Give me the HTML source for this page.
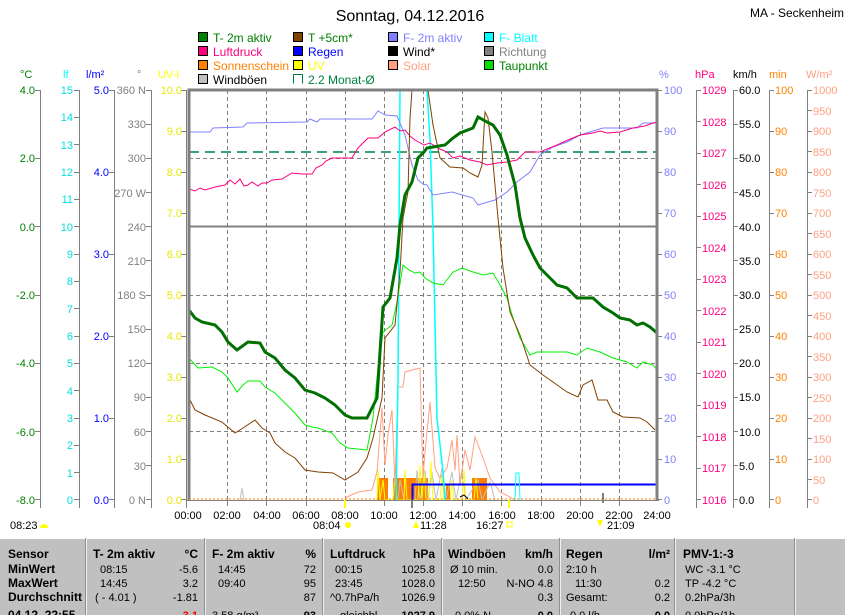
<!DOCTYPE html>
<html><head><meta charset="utf-8"><style>
html,body{margin:0;padding:0;background:#fff;}
svg{display:block;font-family:"Liberation Sans",sans-serif;}
</style></head><body>
<svg width="845" height="615" viewBox="0 0 845 615" xmlns="http://www.w3.org/2000/svg" font-size="11">
<rect width="845" height="615" fill="#fff"/>
<text x="410" y="21" font-size="16" text-anchor="middle">Sonntag, 04.12.2016</text>
<text x="750" y="17" font-size="12">MA - Seckenheim</text>
<g font-size="12">
<rect x="198.5" y="32.5" width="9" height="9" fill="#008000" stroke="#000"/><text x="213" y="42" fill="#008000">T- 2m aktiv</text>
<rect x="293.5" y="32.5" width="9" height="9" fill="#804000" stroke="#000"/><text x="308" y="42" fill="#008000">T +5cm*</text>
<rect x="388.5" y="32.5" width="9" height="9" fill="#8080ff" stroke="#000"/><text x="403" y="42" fill="#8080ff">F- 2m aktiv</text>
<rect x="484.5" y="32.5" width="9" height="9" fill="#00ffff" stroke="#000"/><text x="499" y="42" fill="#00ffff">F- Blatt</text>
<rect x="198.5" y="46.5" width="9" height="9" fill="#ff0080" stroke="#000"/><text x="213" y="56" fill="#ff0080">Luftdruck</text>
<rect x="293.5" y="46.5" width="9" height="9" fill="#0000ff" stroke="#000"/><text x="308" y="56" fill="#0000ff">Regen</text>
<rect x="388.5" y="46.5" width="9" height="9" fill="#000" stroke="#000"/><text x="403" y="56" fill="#000">Wind*</text>
<rect x="484.5" y="46.5" width="9" height="9" fill="#808080" stroke="#000"/><text x="499" y="56" fill="#808080">Richtung</text>
<rect x="198.5" y="60.5" width="9" height="9" fill="#ff8000" stroke="#000"/><text x="213" y="70" fill="#ff8000">Sonnenschein</text>
<rect x="293.5" y="60.5" width="9" height="9" fill="#ffff00" stroke="#000"/><text x="308" y="70" fill="#ffff00">UV</text>
<rect x="388.5" y="60.5" width="9" height="9" fill="#ffa080" stroke="#000"/><text x="403" y="70" fill="#ffa080">Solar</text>
<rect x="484.5" y="60.5" width="9" height="9" fill="#00e000" stroke="#000"/><text x="499" y="70" fill="#008000">Taupunkt</text>
<rect x="198.5" y="74.5" width="9" height="9" fill="#c0c0c0" stroke="#000"/><text x="213" y="84" fill="#000">Windböen</text>
<path d="M293.5 83.5V74.5H302.5V83.5" fill="none" stroke="#008040"/><text x="308" y="84" fill="#008040">2.2 Monat-Ø</text>
</g>
<g font-size="11">
<text x="20" y="78" fill="#008000">°C</text>
<text x="63" y="78" fill="#00ffff">lf</text>
<text x="86" y="78" fill="#0000ff">l/m²</text>
<text x="137" y="78" fill="#808080">°</text>
<text x="158" y="78" fill="#ffff00">UV-I</text>
<text x="659" y="78" fill="#8080ff">%</text>
<text x="695" y="78" fill="#ff0080">hPa</text>
<text x="733" y="78" fill="#000">km/h</text>
<text x="769" y="78" fill="#ff8000">min</text>
<text x="806" y="78" fill="#ffa080">W/m²</text>
</g>
<g stroke="#808080" stroke-width="1">
<line x1="40.5" y1="90" x2="40.5" y2="508"/>
<line x1="79.5" y1="90" x2="79.5" y2="508"/>
<line x1="114.5" y1="90" x2="114.5" y2="508"/>
<line x1="151.5" y1="90" x2="151.5" y2="508"/>
<line x1="186.5" y1="90" x2="186.5" y2="508"/>
<line x1="696.5" y1="90" x2="696.5" y2="508"/>
<line x1="733.5" y1="90" x2="733.5" y2="508"/>
<line x1="769.5" y1="90" x2="769.5" y2="508"/>
<line x1="807.5" y1="90" x2="807.5" y2="508"/>
</g>
<g fill="#008000" text-anchor="end">
<text x="35" y="94">4.0</text><text x="35" y="162">2.0</text><text x="35" y="231">0.0</text><text x="35" y="299">-2.0</text><text x="35" y="367">-4.0</text><text x="35" y="436">-6.0</text><text x="35" y="504">-8.0</text>
</g>
<g stroke="#808080"><path d="M35 90.5h5M35 158.5h5M35 226.5h5M35 295.5h5M35 363.5h5M35 431.5h5M35 499.5h5"/>
<path d="M74 90.5h5M74 117.5h5M74 144.5h5M74 172.5h5M74 199.5h5M74 226.5h5M74 254.5h5M74 281.5h5M74 308.5h5M74 336.5h5M74 363.5h5M74 390.5h5M74 418.5h5M74 445.5h5M74 472.5h5M74 499.5h5"/>
<path d="M109 90.5h5M109 172.5h5M109 254.5h5M109 336.5h5M109 418.5h5M109 499.5h5"/>
<path d="M146 90.5h5M146 124.5h5M146 158.5h5M146 192.5h5M146 226.5h5M146 260.5h5M146 295.5h5M146 329.5h5M146 363.5h5M146 397.5h5M146 431.5h5M146 465.5h5M146 499.5h5"/>
<path d="M181 90.5h5M181 131.5h5M181 172.5h5M181 213.5h5M181 254.5h5M181 295.5h5M181 336.5h5M181 377.5h5M181 418.5h5M181 459.5h5M181 499.5h5"/>
</g>
<g fill="#00e0e0" text-anchor="end">
<text x="73" y="94">15</text><text x="73" y="121">14</text><text x="73" y="149">13</text><text x="73" y="176">12</text><text x="73" y="203">11</text><text x="73" y="231">10</text><text x="73" y="258">9</text><text x="73" y="285">8</text><text x="73" y="313">7</text><text x="73" y="340">6</text><text x="73" y="367">5</text><text x="73" y="395">4</text><text x="73" y="422">3</text><text x="73" y="449">2</text><text x="73" y="477">1</text><text x="73" y="504">0</text>
</g>
<g fill="#0000ff" text-anchor="end">
<text x="109" y="94">5.0</text><text x="109" y="176">4.0</text><text x="109" y="258">3.0</text><text x="109" y="340">2.0</text><text x="109" y="422">1.0</text><text x="109" y="504">0.0</text>
</g>
<g fill="#808080" text-anchor="end">
<text x="146" y="94">360 N</text><text x="146" y="128">330</text><text x="146" y="162">300</text><text x="146" y="197">270 W</text><text x="146" y="231">240</text><text x="146" y="265">210</text><text x="146" y="299">180 S</text><text x="146" y="333">150</text><text x="146" y="367">120</text><text x="146" y="401">90</text><text x="146" y="436">60</text><text x="146" y="470">30</text><text x="146" y="504">0 N</text>
</g>
<g fill="#e8e800" text-anchor="end">
<text x="182" y="94">10.0</text><text x="182" y="135">9.0</text><text x="182" y="176">8.0</text><text x="182" y="217">7.0</text><text x="182" y="258">6.0</text><text x="182" y="299">5.0</text><text x="182" y="340">4.0</text><text x="182" y="381">3.0</text><text x="182" y="422">2.0</text><text x="182" y="463">1.0</text><text x="182" y="504">0.0</text>
</g>
<g stroke="#808080">
<path d="M657 90.5h5M657 131.5h5M657 172.5h5M657 213.5h5M657 254.5h5M657 295.5h5M657 336.5h5M657 377.5h5M657 418.5h5M657 459.5h5M657 499.5h5"/>
<path d="M696 90.5h5M696 121.5h5M696 153.5h5M696 184.5h5M696 216.5h5M696 247.5h5M696 279.5h5M696 310.5h5M696 342.5h5M696 373.5h5M696 405.5h5M696 436.5h5M696 468.5h5M696 499.5h5"/>
<path d="M733 90.5h5M733 124.5h5M733 158.5h5M733 192.5h5M733 226.5h5M733 260.5h5M733 295.5h5M733 329.5h5M733 363.5h5M733 397.5h5M733 431.5h5M733 465.5h5M733 499.5h5"/>
<path d="M769 90.5h5M769 131.5h5M769 172.5h5M769 213.5h5M769 254.5h5M769 295.5h5M769 336.5h5M769 377.5h5M769 418.5h5M769 459.5h5M769 499.5h5"/>
<path d="M807 90.5h5M807 110.5h5M807 131.5h5M807 151.5h5M807 172.5h5M807 192.5h5M807 213.5h5M807 233.5h5M807 254.5h5M807 274.5h5M807 295.5h5M807 315.5h5M807 336.5h5M807 356.5h5M807 377.5h5M807 397.5h5M807 418.5h5M807 438.5h5M807 459.5h5M807 479.5h5M807 499.5h5"/>
</g>
<g fill="#8080ff">
<text x="664" y="94">100</text><text x="664" y="135">90</text><text x="664" y="176">80</text><text x="664" y="217">70</text><text x="664" y="258">60</text><text x="664" y="299">50</text><text x="664" y="340">40</text><text x="664" y="381">30</text><text x="664" y="422">20</text><text x="664" y="463">10</text><text x="664" y="504">0</text>
</g>
<g fill="#ff0080">
<text x="702" y="94">1029</text><text x="702" y="126">1028</text><text x="702" y="157">1027</text><text x="702" y="189">1026</text><text x="702" y="220">1025</text><text x="702" y="252">1024</text><text x="702" y="283">1023</text><text x="702" y="315">1022</text><text x="702" y="346">1021</text><text x="702" y="378">1020</text><text x="702" y="409">1019</text><text x="702" y="441">1018</text><text x="702" y="472">1017</text><text x="702" y="504">1016</text>
</g>
<g fill="#000">
<text x="739" y="94">60.0</text><text x="739" y="128">55.0</text><text x="739" y="162">50.0</text><text x="739" y="197">45.0</text><text x="739" y="231">40.0</text><text x="739" y="265">35.0</text><text x="739" y="299">30.0</text><text x="739" y="333">25.0</text><text x="739" y="367">20.0</text><text x="739" y="401">15.0</text><text x="739" y="436">10.0</text><text x="739" y="470">5.0</text><text x="739" y="504">0.0</text>
</g>
<g fill="#ff8000">
<text x="775" y="94">100</text><text x="775" y="135">90</text><text x="775" y="176">80</text><text x="775" y="217">70</text><text x="775" y="258">60</text><text x="775" y="299">50</text><text x="775" y="340">40</text><text x="775" y="381">30</text><text x="775" y="422">20</text><text x="775" y="463">10</text><text x="775" y="504">0</text>
</g>
<g fill="#ffa080">
<text x="813" y="94">1000</text><text x="813" y="115">950</text><text x="813" y="135">900</text><text x="813" y="156">850</text><text x="813" y="176">800</text><text x="813" y="197">750</text><text x="813" y="217">700</text><text x="813" y="238">650</text><text x="813" y="258">600</text><text x="813" y="279">550</text><text x="813" y="299">500</text><text x="813" y="320">450</text><text x="813" y="340">400</text><text x="813" y="361">350</text><text x="813" y="381">300</text><text x="813" y="402">250</text><text x="813" y="422">200</text><text x="813" y="443">150</text><text x="813" y="463">100</text><text x="813" y="484">50</text><text x="813" y="504">0</text>
</g>
<g stroke="#808080" stroke-dasharray="4,3">
<path d="M227.5 90V500M266.5 90V500M306.5 90V500M345.5 90V500M384.5 90V500M423.5 90V500M462.5 90V500M501.5 90V500M541.5 90V500M580.5 90V500M619.5 90V500"/>
<path d="M189 158.5H657M189 295.5H657M189 363.5H657M189 431.5H657"/>
</g>
<line x1="189" y1="226.5" x2="657" y2="226.5" stroke="#808080" stroke-width="2"/>
<line x1="189" y1="152" x2="657" y2="152" stroke="#008040" stroke-width="1.5" stroke-dasharray="10,6"/>
<g fill="#ff8000"><rect x="377" y="478" width="11" height="22"/><rect x="393" y="478" width="35" height="22"/><rect x="446" y="485" width="4" height="15"/><rect x="472" y="478" width="15" height="22"/></g>
<polyline fill="none" stroke="#c0c0c0" points="398,500 400,480 404,500 415,500 417,470 420,500 425,470 428,500 432,472 436,500 442,468 446,500 452,472 456,500 462,470 466,500 478,480 482,500 490,482 495,500" />
<polyline fill="none" stroke="#c0c0c0" points="240,500 242,488 244,500" />
<polyline fill="none" stroke="#ffff00" points="377,500 378,470 380,500 383,480 385,500 393,500 395,475 397,500 404,500 405,470 407,500 418,500 420,465 422,500 424,470 426,500 429,500 431,462 433,500 440,500 442,475 444,500 450,500 452,480 454,500 462,500 464,470 466,500 474,500 476,478 478,500" />
<polyline fill="none" stroke="#ffa080" points="345,498 358,492 372,490 377,472 382,408 385,465 388,435 392,410 395,485 398,387 403,387 405,372 412,370 420,368 423,478 425,452 430,402 435,468 440,478 447,468 452,440 455,470 457,435 460,485 465,450 470,470 475,437 482,455 490,478 500,492 510,497 515,500" />
<path d="M412.5 500V484.5H657" fill="none" stroke="#0000ff" stroke-width="2"/>
<polyline fill="none" stroke="#00ffff" stroke-width="1.5" points="396,500 398,380 399,228 400,90 427,90 430,140 433,228 437,418 443,472 445,500" />
<polyline fill="none" stroke="#00ffff" points="515,500 516,473 519,473 520,500" />
<polyline fill="none" stroke="#000" points="460,497 464,495 468,499" />
<polyline fill="none" stroke="#8080ff" points="189,132 210,132 213,128 243,127 247,123 307,122 310,119 317,122 320,119 372,119 378,111 385,115 397,116 405,135 412,165 418,180 423,184 427,185 433,195 452,192 473,198 478,205 488,202 495,200 507,192 517,182 530,172 540,155 553,147 567,142 580,135 603,128 637,128 643,123 657,123"/>
<polyline fill="none" stroke="#ff0080" points="189,189 195,191 200,188 205,190 215,187 225,185 230,180 235,184 240,179 244,186 248,185 252,182 258,186 262,183 267,183 272,180 282,179 292,173 302,174 312,174 316,168 322,165 326,161 332,158 345,158 352,158 358,148 363,143 368,138 378,138 385,132 395,127 400,131 405,130 410,136 415,140 424,145 430,143 440,149 447,152 453,158 460,156 470,160 480,162 487,165 497,163 507,162 517,160 525,152 540,152 557,145 568,140 580,135 593,133 600,131 607,133 620,132 633,128 645,126 653,123 657,122"/>
<polyline fill="none" stroke="#00f000" points="189,358 198,368 212,367 222,372 228,378 237,392 243,385 248,381 260,381 265,387 275,393 285,403 295,413 305,425 312,427 318,428 332,433 340,443 348,448 367,450 373,418 378,368 383,332 392,325 397,302 403,265 409,270 415,273 420,272 425,278 433,283 443,285 453,272 462,268 473,272 483,275 493,273 500,285 507,298 513,318 520,338 530,355 537,352 547,352 557,352 567,352 577,355 587,348 600,352 613,358 627,362 637,368 643,362 653,365 657,370"/>
<polyline fill="none" stroke="#804000" points="189,398 195,410 205,415 222,422 235,433 243,428 255,420 262,428 270,433 275,443 285,452 295,458 305,470 318,472 333,473 345,480 358,472 367,458 373,438 382,398 385,338 395,325 400,272 403,218 408,192 410,118 412,90 428,90 433,125 440,158 450,167 463,168 470,173 478,177 482,165 485,112 488,118 492,152 498,218 503,268 510,312 520,335 530,365 543,375 553,382 567,392 578,397 583,385 592,380 598,400 607,400 613,412 623,417 640,418 647,422 655,430"/>
<polyline fill="none" stroke="#007000" stroke-width="3" points="189,310 195,318 202,322 215,325 222,332 228,342 237,350 248,342 260,343 265,352 275,358 285,370 295,378 305,390 315,393 325,398 335,405 345,415 352,418 367,418 372,408 377,398 380,352 383,307 390,298 397,258 400,225 405,195 412,182 418,158 424,152 427,148 445,145 453,138 460,133 473,128 478,117 487,122 493,125 500,135 507,155 515,185 520,218 525,238 533,255 540,268 550,278 557,285 567,288 577,298 593,298 603,307 613,313 620,318 630,320 637,325 643,323 650,327 657,333"/>
<path d="M189 501V90H657V501" fill="none" stroke="#808080" stroke-width="3"/>
<line x1="187" y1="500.5" x2="659" y2="500.5" stroke="#808080" stroke-width="1"/>
<line x1="189" y1="499" x2="657" y2="499" stroke="#ff8000" stroke-width="1" stroke-dasharray="2,2"/>
<g stroke="#808080"><path d="M227.5 500v6M266.5 500v6M306.5 500v6M345.5 500v6M384.5 500v6M423.5 500v6M462.5 500v6M501.5 500v6M541.5 500v6M580.5 500v6M619.5 500v6"/></g>
<g stroke="#ffff00" stroke-width="2"><path d="M345 500v8M509 500v8"/></g>
<g stroke="#808080" stroke-width="2"><path d="M412 500v8M603 493v10"/></g>
<g text-anchor="middle" font-size="11">
<text x="188" y="519">00:00</text><text x="227" y="519">02:00</text><text x="267" y="519">04:00</text><text x="306" y="519">06:00</text><text x="345" y="519">08:00</text><text x="384" y="519">10:00</text><text x="423" y="519">12:00</text><text x="462" y="519">14:00</text><text x="502" y="519">16:00</text><text x="541" y="519">18:00</text><text x="580" y="519">20:00</text><text x="619" y="519">22:00</text><text x="657" y="519">24:00</text>
</g>
<g font-size="11">
<text x="10" y="529">08:23</text><path d="M40 528a4 4 0 0 1 8 0z" fill="#ffff00"/>
<text x="313" y="529">08:04</text><circle cx="348" cy="525" r="3" fill="#ffff00"/>
<text x="420" y="529">11:28</text><path d="M413 528l3-7 3 7z" fill="#ffff00"/>
<text x="476" y="529">16:27</text><rect x="507" y="522" width="5" height="5" fill="none" stroke="#ffff00"/>
<text x="607" y="529">21:09</text><path d="M597 520l3 7 3-7z" fill="#ffff00"/>
</g>
<rect x="0" y="538" width="845" height="77" fill="#c0c0c0"/>
<line x1="0" y1="538.5" x2="845" y2="538.5" stroke="#fff"/>
<g stroke="#f0f0f0"><path d="M86.5 538V615M205.5 538V615M323.5 538V615M442.5 538V615M560.5 538V615M675.5 538V615M795.5 538V615"/></g>
<g stroke="#909090"><path d="M85.5 538V615M204.5 538V615M322.5 538V615M441.5 538V615M559.5 538V615M674.5 538V615M794.5 538V615"/></g>
<g font-size="12" font-weight="bold">
<text x="8" y="558">Sensor</text><text x="8" y="573">MinWert</text><text x="8" y="587">MaxWert</text><text x="8" y="601">Durchschnitt</text><text x="8" y="619">04.12. 22:55</text>
<text x="93" y="558">T- 2m aktiv</text><text x="198" y="558" text-anchor="end">°C</text>
<text x="212" y="558">F- 2m aktiv</text><text x="316" y="558" text-anchor="end">%</text>
<text x="330" y="558">Luftdruck</text><text x="435" y="558" text-anchor="end">hPa</text>
<text x="448" y="558">Windböen</text><text x="553" y="558" text-anchor="end">km/h</text>
<text x="566" y="558">Regen</text><text x="670" y="558" text-anchor="end">l/m²</text>
<text x="683" y="558">PMV-1:-3</text>
</g>
<g font-size="11">
<text x="100" y="573">08:15</text><text x="198" y="573" text-anchor="end">-5.6</text>
<text x="218" y="573">14:45</text><text x="316" y="573" text-anchor="end">72</text>
<text x="335" y="573">00:15</text><text x="435" y="573" text-anchor="end">1025.8</text>
<text x="450" y="573">Ø 10 min.</text><text x="553" y="573" text-anchor="end">0.0</text>
<text x="566" y="573">2:10 h</text><text x="685" y="573">WC -3.1 °C</text>
<text x="100" y="587">14:45</text><text x="198" y="587" text-anchor="end">3.2</text>
<text x="218" y="587">09:40</text><text x="316" y="587" text-anchor="end">95</text>
<text x="335" y="587">23:45</text><text x="435" y="587" text-anchor="end">1028.0</text>
<text x="458" y="587">12:50</text><text x="553" y="587" text-anchor="end">N-NO 4.8</text>
<text x="575" y="587">11:30</text><text x="670" y="587" text-anchor="end">0.2</text><text x="685" y="587">TP -4.2 °C</text>
<text x="95" y="601">( - 4.01 )</text><text x="198" y="601" text-anchor="end">-1.81</text>
<text x="316" y="601" text-anchor="end">87</text>
<text x="330" y="601">^0.7hPa/h</text><text x="435" y="601" text-anchor="end">1026.9</text>
<text x="553" y="601" text-anchor="end">0.3</text>
<text x="566" y="601">Gesamt:</text><text x="670" y="601" text-anchor="end">0.2</text><text x="685" y="601">0.2hPa/3h</text>
<text x="198" y="619" text-anchor="end" fill="#ff0000" font-weight="bold">-3.1</text>
<text x="212" y="619">3.58 g/m³</text><text x="316" y="619" text-anchor="end" font-weight="bold">93</text>
<text x="340" y="619">gleichbl.</text><text x="435" y="619" text-anchor="end" font-weight="bold">1027.9</text>
<text x="455" y="619">0.0% N</text><text x="553" y="619" text-anchor="end" font-weight="bold">0.0</text>
<text x="570" y="619">0.0 l/h</text><text x="670" y="619" text-anchor="end" font-weight="bold">0.0</text>
<text x="685" y="619">0.0hPa/1h</text>
</g>
</svg>
</body></html>
